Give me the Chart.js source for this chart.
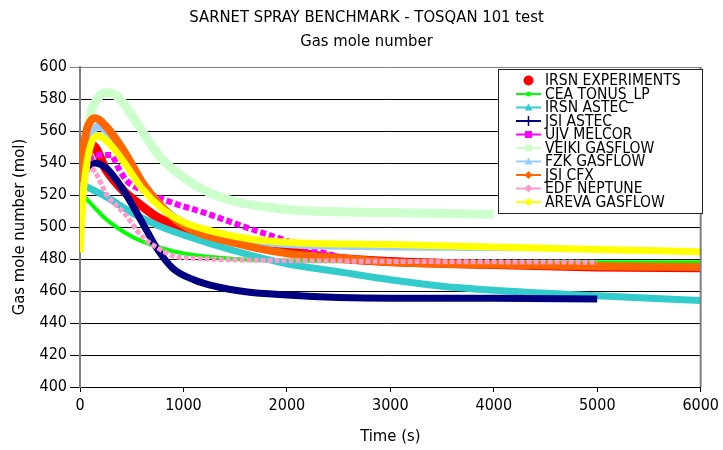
<!DOCTYPE html>
<html>
<head>
<meta charset="utf-8">
<script src="https://cdn.jsdelivr.net/npm/chart.js@4.4.1/dist/chart.umd.min.js"></script>
<style>
  html, body { margin: 0; padding: 0; background: #ffffff; }
  #wrap { width: 723px; height: 450px; position: relative; }
</style>
</head>
<body>
<div id="wrap"><canvas id="c" width="723" height="450"></canvas></div>
<script>
// ---- Data (time in s, gas mole number in mol) ----
const seriesNames = ["IRSN EXPERIMENTS","CEA TONUS_LP","IRSN ASTEC","JSI ASTEC","UJV MELCOR",
                     "VEIKI GASFLOW","FZK GASFLOW","JSI CFX","EDF NEPTUNE","AREVA GASFLOW"];

const tIrsnExp   = [0,50,120,250,430,600,750,1000,1500,2000,2500,3000,4000,5000,6000];
const vIrsnExp   = [522,540,551,536,522,513,506,499,491,485,480.5,478.5,476.5,475,474.5];

const tCeaTonus  = [0,100,250,500,750,1000,1500,2000,3000,4000,5000,6000];
const vCeaTonus  = [522,515,505,494,487.5,483.5,480,479,478.5,478,478,478];

const tIrsnAstec = [0,100,250,500,750,1000,1500,2000,2500,3000,3500,4000,5000,6000];
const vIrsnAstec = [527,524,519,509,501,495,485,477,472,467,463,460.5,457,454];

const tJsiAstec  = [0,50,140,250,400,600,750,900,1100,1300,1600,2000,2500,3000,4000,5000];
const vJsiAstec  = [525,535,540,537,525,503,486,474,467,463,459.5,457.5,456,455.5,455.5,455];

const tUjvMelcor = [0,80,150,300,370,450,600,900,1200,1550,1900,2300,2600,3000];
const vUjvMelcor = [520,540,545,545,537,529,523,515,509,501,493.5,485,480,478];

const tVeiki     = [0,100,180,250,330,400,500,600,700,800,1000,1200,1500,2000,2500,3000,4000];
const vVeiki     = [525,570,581,584,583,579,570,560,550,542,531,523,516,511,509.5,509,508];

const tFzk       = [0,80,170,250,400,600,800,1000,1200,1500,2000,2500,3000,4200];
const vFzk       = [525,550,563,560,545,527,512,503,498,493,489,488,487.5,487];

const tJsiCfx    = [0,50,100,150,250,430,600,800,1000,1500,2000,2500,3000,4000,5000,6000];
const vJsiCfx    = [522,556,566,568,563,547,528,512,501,490,483.5,480.5,478,476.5,475.5,475];

const tEdf       = [0,100,270,430,600,750,900,1100,1500,2000,3000,5000];
const vEdf       = [522,537,519,508.5,494,487,482,480.5,479.5,479,478.5,478];

const tAreva     = [0,30,80,170,300,430,600,800,1000,1300,1600,2000,3000,4000,5000,6000];
const vAreva     = [484,520,545,557,551,540,524,511,503,497,493,490.5,489,487.5,486,484.5];

const xTicks = [0,1000,2000,3000,4000,5000,6000];
const yTicks = [400,420,440,460,480,500,520,540,560,580,600];

// ---- Styles ----
const FONT = '"DejaVu Sans Condensed", "DejaVu Sans", sans-serif';
const seriesTimes  = [tIrsnExp,tCeaTonus,tIrsnAstec,tJsiAstec,tUjvMelcor,tVeiki,tFzk,tJsiCfx,tEdf,tAreva];
const seriesValues = [vIrsnExp,vCeaTonus,vIrsnAstec,vJsiAstec,vUjvMelcor,vVeiki,vFzk,vJsiCfx,vEdf,vAreva];
const colors  = ["#FF0000","#00FF00","#33CCCC","#000080","#FF00FF","#CCFFCC","#99CCFF","#FF6600","#FF99CC","#FFFF00"];
const widths  = [9,4,7,7,6,9,7,8,5,7];
const dashes  = [[],[],[],[],[6,3],[],[],[],[5,2],[]];
const markers = ["circle","dot","triangle","plus","square","square","triangle","diamond","diamond","diamond"];

const datasets = seriesNames.map((name, i) => ({
  label: name,
  data: seriesTimes[i].map((t, k) => ({ x: t, y: seriesValues[i][k] })),
  borderColor: colors[i],
  backgroundColor: colors[i],
  borderWidth: widths[i],
  borderDash: dashes[i],
  pointRadius: 0,
  cubicInterpolationMode: 'monotone',
  order: seriesNames.length - i
}));

function drawMarker(ctx, type, x, y, color) {
  ctx.save();
  ctx.fillStyle = color; ctx.strokeStyle = color; ctx.lineWidth = 1.5;
  ctx.beginPath();
  if (type === 'circle') { ctx.arc(x, y, 5, 0, Math.PI*2); ctx.fill(); }
  else if (type === 'dot') { ctx.arc(x, y, 2.5, 0, Math.PI*2); ctx.fill(); }
  else if (type === 'triangle') { ctx.moveTo(x, y-4); ctx.lineTo(x+4, y+3); ctx.lineTo(x-4, y+3); ctx.closePath(); ctx.fill(); }
  else if (type === 'square') { ctx.rect(x-3.5, y-3.5, 7, 7); ctx.fill(); }
  else if (type === 'diamond') { ctx.moveTo(x, y-4); ctx.lineTo(x+4, y); ctx.lineTo(x, y+4); ctx.lineTo(x-4, y); ctx.closePath(); ctx.fill(); }
  else if (type === 'plus') { ctx.moveTo(x-4, y); ctx.lineTo(x+4, y); ctx.moveTo(x, y-5); ctx.lineTo(x, y+5); ctx.stroke(); }
  ctx.restore();
}

const framePlugin = {
  id: 'frameAndLegend',
  afterDraw(chart) {
    const ctx = chart.ctx, a = chart.chartArea;
    ctx.save();
    ctx.strokeStyle = '#808080'; ctx.lineWidth = 2;
    ctx.beginPath(); ctx.moveTo(a.right, a.top); ctx.lineTo(a.right, a.bottom); ctx.stroke();
    const lx = 498, ly = 69, lw = 204, lh = 144;
    ctx.fillStyle = '#ffffff'; ctx.fillRect(lx, ly, lw, lh);
    ctx.strokeStyle = '#222222'; ctx.lineWidth = 1;
    ctx.strokeRect(lx + 0.5, ly + 0.5, lw, lh);
    ctx.font = '15.5px ' + FONT; ctx.textBaseline = 'middle'; ctx.fillStyle = '#000';
    seriesNames.forEach((name, i) => {
      const y = 80.5 + i * 13.5;
      if (i > 0) {
        ctx.strokeStyle = colors[i]; ctx.lineWidth = 2;
        ctx.beginPath(); ctx.moveTo(516, y); ctx.lineTo(541, y); ctx.stroke();
      }
      drawMarker(ctx, markers[i], 528.5, y, colors[i]);
      ctx.fillStyle = '#000';
      ctx.fillText(name, 545, y + 0.5);
    });
    ctx.restore();
  }
};

new Chart(document.getElementById('c'), {
  type: 'line',
  data: { datasets },
  plugins: [framePlugin],
  options: {
    responsive: false,
    animation: false,
    events: [],
    layout: { padding: { left: 10, right: 0, top: 0, bottom: 0 } },
    plugins: {
      legend: { display: false },
      tooltip: { enabled: false },
      title: {
        display: true,
        text: ['SARNET SPRAY BENCHMARK - TOSQAN 101 test', 'Gas mole number'],
        color: '#000',
        font: { family: FONT, size: 16.5, weight: 'normal', lineHeight: '24px' },
        padding: { top: 6, bottom: 13 }
      }
    },
    scales: {
      x: {
        type: 'linear',
        min: 0, max: 6000,
        afterFit: s => { s.height = 63; },
        afterBuildTicks: s => { s.ticks = xTicks.map(v => ({ value: v })); },
        ticks: { color: '#000', font: { family: FONT, size: 16 }, padding: 4, maxRotation: 0,
                 callback: v => String(v) },
        grid: { drawOnChartArea: false, drawTicks: true, tickLength: 5, color: '#000' },
        border: { display: true, color: '#000', width: 1 },
        title: { display: true, text: 'Time (s)', color: '#000',
                 font: { family: FONT, size: 16.5 }, padding: { top: 0, bottom: 3 } }
      },
      y: {
        min: 400, max: 600,
        afterFit: s => { s.width = 70; },
        afterBuildTicks: s => { s.ticks = yTicks.map(v => ({ value: v })); },
        ticks: { color: '#000', font: { family: FONT, size: 16 }, padding: 3 },
        grid: { color: c => (c.tick && c.tick.value === 600) ? '#808080' : '#000',
                lineWidth: 1, drawTicks: true, tickLength: 10 },
        border: { display: true, color: '#808080', width: 2 },
        title: { display: true, text: 'Gas mole number (mol)', color: '#000',
                 font: { family: FONT, size: 16.5 }, padding: { top: 0, bottom: 0 } }
      },
      yRightSpace: {
        position: 'right',
        display: true,
        afterFit: s => { s.width = 19; },
        ticks: { display: false },
        grid: { display: false, drawTicks: false },
        border: { display: false }
      }
    }
  }
});
</script>
</body>
</html>
